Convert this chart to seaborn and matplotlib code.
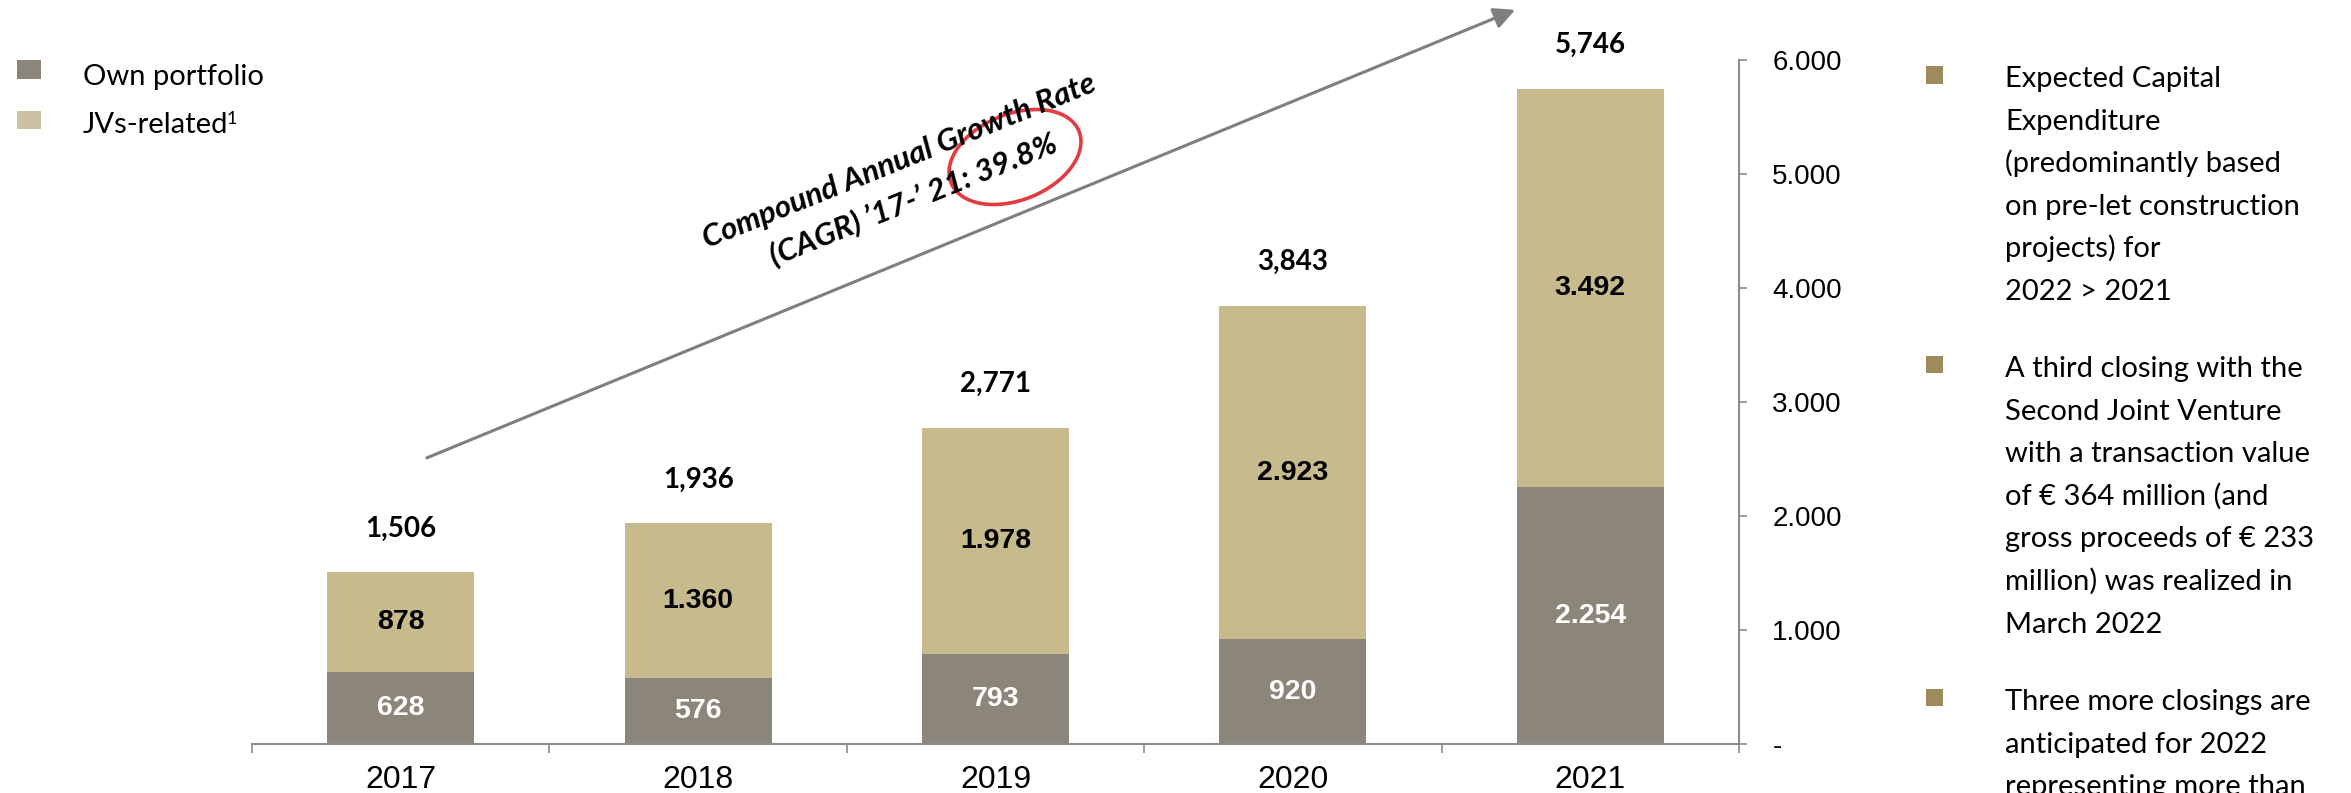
import matplotlib
matplotlib.use("Agg")
import matplotlib.pyplot as plt
import seaborn as sns
import numpy as np
from matplotlib.patches import Rectangle, Ellipse

# ---------------- data ----------------
years = ["2017", "2018", "2019", "2020", "2021"]
own_portfolio = [628, 576, 793, 920, 2254]
jvs_related = [878, 1360, 1978, 2923, 3492]
totals = [o + j for o, j in zip(own_portfolio, jvs_related)]

legend_labels = ["Own portfolio", "JVs-related"]
legend_sup = "1"
ytick_values = [0, 1000, 2000, 3000, 4000, 5000, 6000]
ytick_labels = ["-", "1.000", "2.000", "3.000", "4.000", "5.000", "6.000"]
cagr_lines = ["Compound Annual Growth Rate", "(CAGR) \u201917-\u2019 21: 39.8%"]
bullet_paragraphs = [
    ["Expected Capital", "Expenditure", "(predominantly based",
     "on pre-let construction", "projects) for", "2022 > 2021"],
    ["A third closing with the", "Second Joint Venture", "with a transaction value",
     "of \u20ac 364 million (and", "gross proceeds of \u20ac 233",
     "million) was realized in", "March 2022"],
    ["Three more closings are", "anticipated for 2022", "representing more than"],
]

# ---------------- style ----------------
OWN_C = "#8B857A"
JV_C = "#C7BA8D"
JV_LEG_C = "#CCC1A2"
BULLET_C = "#9E8A5A"
AXIS_C = "#8C8C8C"
ARROW_C = "#7F7F7F"
RED_C = "#E0252C"

sns.set_theme(style="white")
plt.rcParams["font.family"] = ["Liberation Sans", "DejaVu Sans"]

W, H = 2351, 793
fig = plt.figure(figsize=(W / 100, H / 100), dpi=100)
fig.patch.set_facecolor("white")

def fx(px):
    return px / W

def fy(py):
    return (H - py) / H

ax = fig.add_axes([fx(252), fy(744), 1487 / W, 684 / H])

sns.barplot(x=years, y=totals, color=JV_C, saturation=1, width=0.494,
            errorbar=None, linewidth=0, ax=ax)
sns.barplot(x=years, y=own_portfolio, color=OWN_C, saturation=1, width=0.494,
            errorbar=None, linewidth=0, ax=ax)

ax.set_xlim(-0.5, 4.5)
ax.set_ylim(0, 6000)
ax.set_xlabel("")
ax.set_ylabel("")

for s in ["left", "top"]:
    ax.spines[s].set_visible(False)
for s in ["right", "bottom"]:
    ax.spines[s].set_visible(True)
    ax.spines[s].set_color(AXIS_C)
    ax.spines[s].set_linewidth(1.5)

ax.yaxis.tick_right()
ax.set_yticks(ytick_values)
ax.set_yticklabels(ytick_labels)
ax.tick_params(axis="y", direction="out", length=6, width=1.2, color=AXIS_C,
               pad=18, labelsize=20, labelcolor="black", right=True, left=False)

ax.set_xticks(range(len(years)))
ax.set_xticklabels(years)
ax.tick_params(axis="x", which="major", length=0, pad=15, labelsize=23,
               labelcolor="black")
ax.set_xticks(np.arange(-0.5, len(years), 1.0), minor=True)
ax.tick_params(axis="x", which="minor", direction="out", length=6.5,
               width=1.2, color=AXIS_C, bottom=True)

def dotfmt(v):
    return f"{v:,}".replace(",", ".")

lato = ["Lato", "DejaVu Sans"]
for i, (o, j, t) in enumerate(zip(own_portfolio, jvs_related, totals)):
    ax.text(i, o / 2, dotfmt(o), ha="center", va="center", color="white",
            fontsize=20.5, fontweight="bold")
    ax.text(i, o + j / 2, dotfmt(j), ha="center", va="center", color="black",
            fontsize=20.5, fontweight="bold")
    ax.text(i, t + 385, f"{t:,}", ha="center", va="center", color="black",
            fontsize=20, fontweight="bold", family=lato, clip_on=False)

# growth arrow (data coordinates)
ax.annotate("", xy=(3.747, 6440), xytext=(0.088, 2510),
            arrowprops=dict(arrowstyle="-|>", color=ARROW_C, lw=2.2,
                            mutation_scale=32, shrinkA=0, shrinkB=0),
            annotation_clip=False)

# CAGR text
cagr_centers = [(899, 161), (913, 199)]
for line, (cx, cy) in zip(cagr_lines, cagr_centers):
    fig.text(fx(cx), fy(cy), line, rotation=22, rotation_mode="anchor",
             ha="center", va="center", fontsize=22.5, fontweight="bold",
             fontstyle="italic", family=lato, color="black")

ell = Ellipse((10.15, (H - 157) / 100), 1.38, 0.86, angle=22,
              transform=fig.dpi_scale_trans, fill=False, edgecolor=RED_C,
              lw=2.6, alpha=0.9)
fig.add_artist(ell)

# legend
fig.add_artist(Rectangle((fx(17), fy(79)), 24 / W, 19 / H,
                         transform=fig.transFigure, color=OWN_C, lw=0))
fig.add_artist(Rectangle((fx(17), fy(129)), 24 / W, 18 / H,
                         transform=fig.transFigure, color=JV_LEG_C, lw=0))
fig.text(fx(83), fy(85), legend_labels[0], va="baseline", ha="left",
         fontsize=21, family=lato, color="black")
jt = fig.text(fx(83), fy(133), legend_labels[1], va="baseline", ha="left",
              fontsize=21, family=lato, color="black")
ax.annotate(legend_sup, xy=(1, 1), xycoords=jt, xytext=(-1.5, 1),
            textcoords="offset points", va="top", ha="left", fontsize=13,
            family=lato, color="black", annotation_clip=False)

# right bullet text
para_first_baselines = [87, 377, 710]
bullet_centers = [75, 365, 697]
line_step = 42.6
for para, b0, bc in zip(bullet_paragraphs, para_first_baselines, bullet_centers):
    fig.add_artist(Rectangle((fx(1926), fy(bc + 8.5)), 17 / W, 17 / H,
                             transform=fig.transFigure, color=BULLET_C, lw=0))
    for k, line in enumerate(para):
        fig.text(fx(2005), fy(b0 + k * line_step), line, va="baseline",
                 ha="left", fontsize=21, family=lato, color="black")

fig.savefig("out.png", dpi=100, facecolor="white")
